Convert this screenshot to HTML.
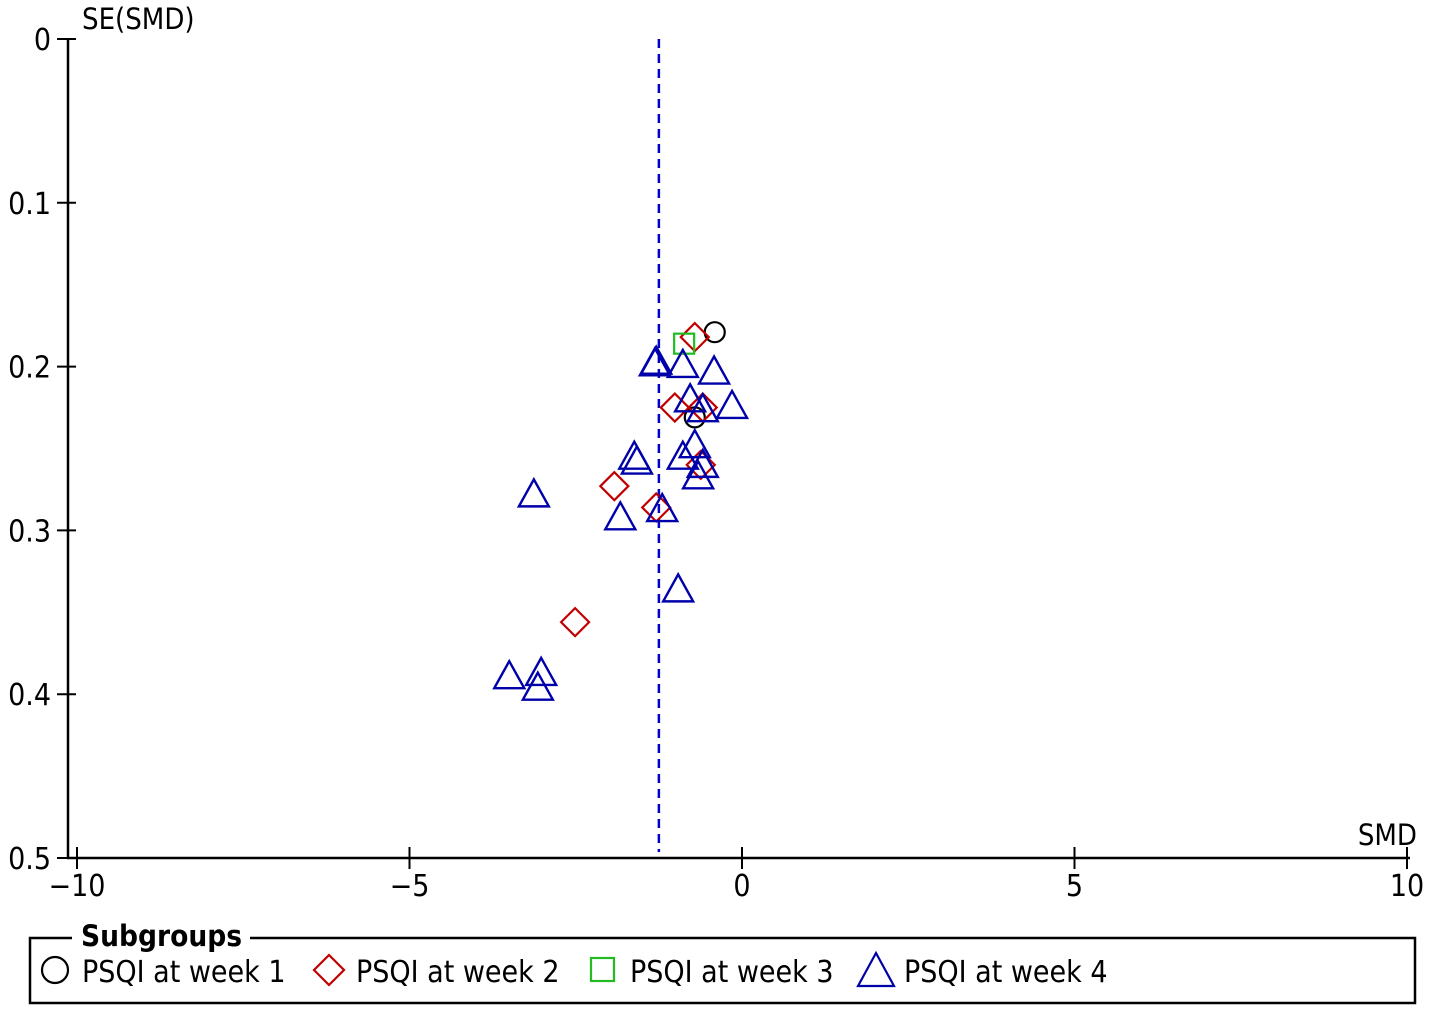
<!DOCTYPE html>
<html><head><meta charset="utf-8"><style>
html,body{margin:0;padding:0;background:#fff}
svg{display:block;font-family:"DejaVu Sans Condensed","DejaVu Sans","Liberation Sans",sans-serif}
</style></head><body>
<svg id="chart" width="1430" height="1014" viewBox="0 0 1430 1014">
<g id="axes"></g>
<g id="marks"></g>
<g>
  <polyline points="72,938 30,938 30,1003 1415,1003 1415,938 250,938" fill="none" stroke="#000" stroke-width="2.5"/>
  <text x="81" y="946" font-size="29.5" font-weight="bold">Subgroups</text>
  <g>
    <circle cx="55" cy="970" r="13" fill="none" stroke="#000" stroke-width="2.2"/>
    <text x="82" y="982" font-size="30">PSQI at week 1</text></g>
  <g>
    <polygon points="329,955 344,970 329,985 314,970" fill="none" stroke="#c00000" stroke-width="2.2"/>
    <text x="356" y="982" font-size="30">PSQI at week 2</text></g>
  <g>
    <rect x="591" y="958" width="23" height="23" fill="none" stroke="#22bb22" stroke-width="2.2"/>
    <text x="630" y="982" font-size="30">PSQI at week 3</text></g>
  <g>
    <polygon points="876,953 894,986 858,986" fill="none" stroke="#0000aa" stroke-width="2.2"/>
    <text x="904" y="982" font-size="30">PSQI at week 4</text></g>
</g>
</svg>
<script>
const xTicks=[-10,-5,0,5,10];
const xTickLabels=["\u221210","\u22125","0","5","10"];
const yTicks=[0,0.1,0.2,0.3,0.4,0.5];
const yTickLabels=["0","0.1","0.2","0.3","0.4","0.5"];
const pooledSMD=-1.25;
const week1X=[-0.41,-0.71];
const week1Y=[0.179,0.231];
const week2X=[-0.71,-1.01,-0.59,-0.62,-1.92,-1.29,-2.51];
const week2Y=[0.182,0.225,0.225,0.26,0.273,0.286,0.356];
const week3X=[-0.87];
const week3Y=[0.186];
const week4X=[-1.29,-1.31,-0.89,-0.42,-0.78,-0.59,-0.15,-0.71,-0.89,-0.59,-0.66,-1.62,-1.58,-3.13,-1.83,-1.20,-0.96,-3.50,-3.02,-3.07];
const week4Y=[0.197,0.198,0.199,0.203,0.220,0.226,0.224,0.248,0.255,0.26,0.267,0.255,0.258,0.278,0.292,0.287,0.336,0.389,0.387,0.396];

const NS="http://www.w3.org/2000/svg";
const xs=v=>742+v*66.5;
const ys=v=>39+v*1638;
function mk(tag,attrs,parent){const e=document.createElementNS(NS,tag);for(const k in attrs)e.setAttribute(k,attrs[k]);parent.appendChild(e);return e;}
const axes=document.getElementById('axes'),marks=document.getElementById('marks');
let e;
e=mk('line',{x1:68,y1:39,x2:68,y2:859,stroke:'#000','stroke-width':2.5},axes);


e=mk('line',{x1:67,y1:858,x2:1410,y2:858,stroke:'#000','stroke-width':2.5},axes);


xTicks.forEach((t,i)=>{
  e=mk('line',{x1:xs(t),y1:847,x2:xs(t),y2:869,stroke:'#000','stroke-width':2},axes);
  
  
  e=mk('text',{x:xs(t),y:896,'font-size':30,'text-anchor':'middle'},axes);
  e.textContent=xTickLabels[i];
  
  
});
yTicks.forEach((t,i)=>{
  e=mk('line',{x1:57,y1:ys(t),x2:76,y2:ys(t),stroke:'#000','stroke-width':2},axes);
  
  
  e=mk('text',{x:51,y:ys(t)+11,'font-size':30,'text-anchor':'end'},axes);
  e.textContent=yTickLabels[i];
  
  
});
e=mk('text',{x:82,y:29,'font-size':29},axes);e.textContent='SE(SMD)';


e=mk('text',{x:1417,y:845,'font-size':29,'text-anchor':'end'},axes);e.textContent='SMD';


e=mk('line',{x1:xs(pooledSMD),y1:39,x2:xs(pooledSMD),y2:852,stroke:'#0000cc','stroke-width':2.5,'stroke-dasharray':'9,6'},axes);



week1X.forEach((v,i)=>{
  e=mk('circle',{cx:xs(v),cy:ys(week1Y[i]),r:10,fill:'none',stroke:'#000','stroke-width':2.2},marks);
  
  
});
week2X.forEach((v,i)=>{
  const x=xs(v),y=ys(week2Y[i]);
  e=mk('polygon',{points:`${x},${y-14} ${x+14},${y} ${x},${y+14} ${x-14},${y}`,fill:'none',stroke:'#c00000','stroke-width':2.2},marks);
  
  
});
week3X.forEach((v,i)=>{
  const x=xs(v),y=ys(week3Y[i]);
  e=mk('rect',{x:x-10,y:y-10,width:20,height:20,fill:'none',stroke:'#22bb22','stroke-width':2.2},marks);
  
  
});
week4X.forEach((v,i)=>{
  const x=xs(v),y=ys(week4Y[i]);
  e=mk('polygon',{points:`${x},${y-15} ${x+15},${y+12} ${x-15},${y+12}`,fill:'none',stroke:'#0000aa','stroke-width':2.4},marks);
  
  
});
</script>
</body></html>
